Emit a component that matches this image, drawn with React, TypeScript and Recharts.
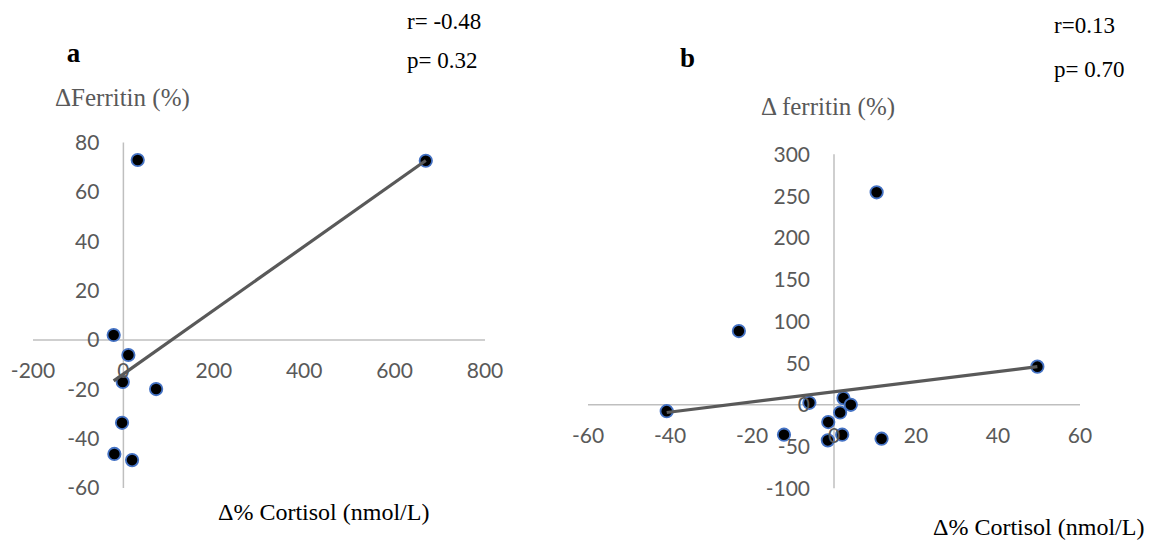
import { ScatterChart, Scatter, XAxis, YAxis, ReferenceLine, ReferenceDot } from 'recharts';

// panel a: Δ% cortisol vs Δ ferritin (%)
const cortisolA = [31.7, 669, -21.5, 11, -1.5, 72.4, -3, -20, 19.2];
const ferritinA = [72.9, 72.6, 2.0, -6.1, -17, -19.9, -33.6, -46.2, -48.7];
const trendAx = [-21.5, 669];
const trendAy = [-16.6, 72.7];
const xTicksA = [-200, 0, 200, 400, 600, 800];
const yTicksA = [-60, -40, -20, 0, 20, 40, 60, 80];

// panel b
const cortisolB = [10.4, -23.2, 49.6, -40.8, -6.0, 2.3, 4.1, 1.5, -1.4, -12.2, 2.0, -1.5, 11.6];
const ferritinB = [254.5, 88.3, 45.7, -7.6, 2.4, 8, 0, -9.2, -20.7, -35.8, -35.8, -42.6, -40.6];
const trendBx = [-40.8, 49.6];
const trendBy = [-9.2, 45.7];
const xTicksB = [-60, -40, -20, 0, 20, 40, 60];
const yTicksB = [-100, -50, 0, 50, 100, 150, 200, 250, 300];

const AXIS = '#bfbfbf';
const TICK = '#595959';
const TICK_FONT = 'Lato, "Open Sans", sans-serif';
const SERIF = 'Liberation Serif';

const zip = (xs: number[], ys: number[]) => xs.map((x, i) => ({ x, y: ys[i] }));

function Dot(props: any) {
  return <circle cx={props.cx} cy={props.cy} r={6.2} fill="#000" stroke="#4472C4" strokeWidth={1.8} />;
}

interface PanelProps {
  width: number;
  height: number;
  margin: { top: number; right: number; bottom: number; left: number };
  xDomain: [number, number];
  yDomain: [number, number];
  points: { x: number; y: number }[];
  trend: { x: number; y: number }[];
  xTicks: number[];
  yTicks: number[];
}

function Panel({ width, height, margin, xDomain, yDomain, points, trend, xTicks, yTicks }: PanelProps) {
  const tickLabel = { fill: TICK, fontSize: 21, fontFamily: TICK_FONT };
  return (
    <ScatterChart width={width} height={height} margin={margin}>
      <XAxis type="number" dataKey="x" domain={xDomain} hide />
      <YAxis type="number" dataKey="y" domain={yDomain} hide />
      <ReferenceLine x={0} stroke={AXIS} strokeWidth={1.5} />
      <ReferenceLine y={0} stroke={AXIS} strokeWidth={1.5} />
      {xTicks.map(t => (
        <ReferenceDot key={`x${t}`} x={t} y={0} r={0} fill="none" stroke="none"
          label={{ value: String(t), position: 'bottom', offset: 23, ...tickLabel }} />
      ))}
      {yTicks.map(t => (
        <ReferenceDot key={`y${t}`} x={0} y={t} r={0} fill="none" stroke="none"
          label={{ value: String(t), position: 'left', offset: 24, ...tickLabel }} />
      ))}
      <Scatter data={points} shape={Dot} isAnimationActive={false} />
      <Scatter data={trend} shape={() => <g />} line={{ stroke: '#595959', strokeWidth: 3.2 }}
        isAnimationActive={false} />
    </ScatterChart>
  );
}

function Txt({ x, y, size, children, bold, fill }: any) {
  return (
    <text x={x} y={y} fontSize={size} fontFamily={SERIF} fontWeight={bold ? 'bold' : 'normal'} fill={fill || '#000'}>
      {children}
    </text>
  );
}

export default function App() {
  return (
    <div style={{ position: 'absolute', left: 0, top: 0, width: 1152, height: 546, background: '#fff', overflow: 'hidden' }}>
      <div style={{ position: 'absolute', left: 0, top: 0 }}>
        <Panel width={520} height={546} margin={{ top: 142.5, right: 35, bottom: 58, left: 33 }}
          xDomain={[-200, 800]} yDomain={[-60, 80]}
          points={zip(cortisolA, ferritinA)} trend={zip(trendAx, trendAy)}
          xTicks={xTicksA} yTicks={yTicksA} />
      </div>
      <div style={{ position: 'absolute', left: 540, top: 0 }}>
        <Panel width={612} height={546} margin={{ top: 154.3, right: 72, bottom: 57.7, left: 48 }}
          xDomain={[-60, 60]} yDomain={[-100, 300]}
          points={zip(cortisolB, ferritinB)} trend={zip(trendBx, trendBy)}
          xTicks={xTicksB} yTicks={yTicksB} />
      </div>
      <svg width={1152} height={546} style={{ position: 'absolute', left: 0, top: 0, pointerEvents: 'none' }}>
        {/* panel a text */}
        <Txt x={66.7} y={61.7} size={27} bold>a</Txt>
        <Txt x={407} y={29.3} size={23}>r= -0.48</Txt>
        <Txt x={407} y={68.3} size={23}>p= 0.32</Txt>
        <Txt x={55} y={106} size={25} fill="#595959">ΔFerritin (%)</Txt>
        <Txt x={218} y={520} size={24}>Δ% Cortisol (nmol/L)</Txt>
        {/* panel b text */}
        <Txt x={680} y={66.7} size={27} bold>b</Txt>
        <Txt x={1054} y={33.3} size={23}>r=0.13</Txt>
        <Txt x={1054} y={77.3} size={23}>p= 0.70</Txt>
        <Txt x={761} y={115} size={25} fill="#595959">Δ ferritin (%)</Txt>
        <Txt x={933} y={535} size={24}>Δ% Cortisol (nmol/L)</Txt>
      </svg>
    </div>
  );
}
